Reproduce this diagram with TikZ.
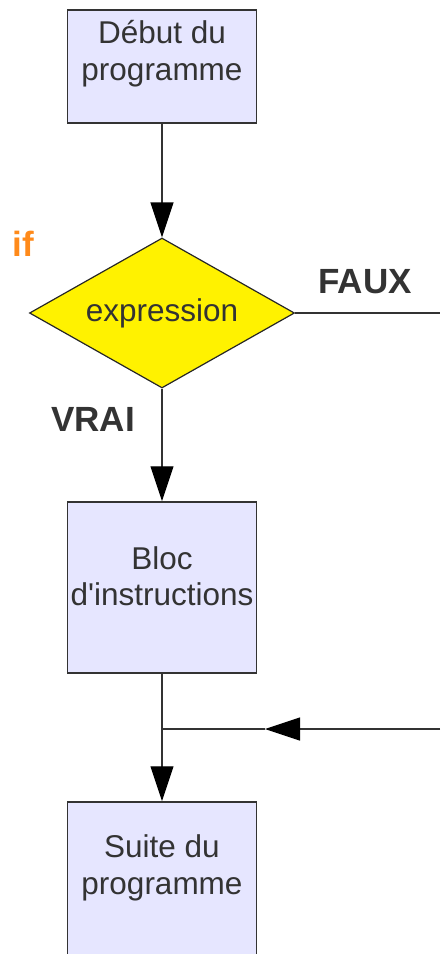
\documentclass[tikz,border=0pt]{standalone}
\usepackage{fontspec}
\setmainfont{Liberation Sans}
\usetikzlibrary{shapes.geometric,arrows.meta}
\definecolor{boxfill}{HTML}{E6E6FF}
\definecolor{txtgray}{HTML}{333333}
\definecolor{iforange}{HTML}{FF8A1A}
\begin{document}
\begin{tikzpicture}[x=1pt,y=1pt,
 bloc/.style={draw=txtgray,line width=1.5pt,fill=boxfill,minimum width=189pt,inner sep=0pt},
 boxtext/.style={align=center,text=txtgray,font=\fontsize{31.5}{36.7}\selectfont,inner sep=0pt},
 test/.style={diamond,shape aspect=1.77,draw=black!85,line width=1.2pt,fill=yellow,minimum width=265pt,minimum height=150pt,inner sep=0pt,
  text=txtgray,font=\fontsize{31.5}{36.7}\selectfont},
 lbl/.style={text=txtgray,font=\fontsize{35}{40}\selectfont\bfseries,inner sep=0pt},
 fleche/.style={-{Triangle[length=35pt,width=23pt,black]},line width=1.2pt,draw=txtgray},
 trait/.style={line width=1.2pt,draw=txtgray}]
 \path[use as bounding box,clip](0,0) rectangle (440,-954);

 % les blocs
 \node[bloc,minimum height=113pt,label={[boxtext,yshift=12.5pt]center:{Début du\\programme}}] (debut) at (162,-66.5) {};
 \node[test] (expr) at (162,-313) {expression};
 \node[bloc,minimum height=171pt,label={[boxtext,yshift=11.3pt]center:{Bloc\\d\textquotesingle instructions}}] (instr) at (162,-587.5) {};
 \node[bloc,minimum height=171pt,label={[boxtext,yshift=20pt]center:{Suite du\\programme}}] (suite) at (162,-887.5) {};

 % les etiquettes
 \node[lbl,text=iforange] (si) at (23,-244) {if};
 \node[lbl] (faux) at (365,-281.5) {FAUX};
 \node[lbl] (vrai) at (93,-419.5) {VRAI};

 % les liaisons
 \coordinate (sortie) at (440,-313);
 \coordinate (retour) at (440,-729);
 \coordinate (pointe) at (265,-729);
 \coordinate (jonction) at (162,-729);
 \draw[fleche] (debut.south) -- (expr.north);
 \draw[fleche] (expr.south) -- (instr.north);
 \draw[trait] (expr.east) -- (sortie);
 \draw[fleche] (retour) -- (pointe);
 \draw[trait] (pointe) -- (jonction);
 \draw[fleche] (instr.south) -- (suite.north);
\end{tikzpicture}
\end{document}
